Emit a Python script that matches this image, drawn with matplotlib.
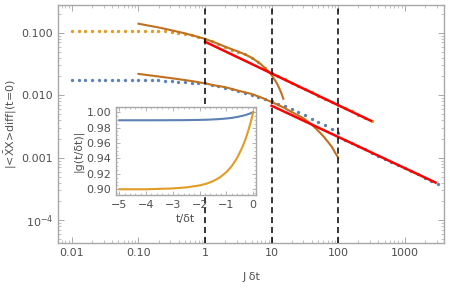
import numpy as np
import matplotlib
matplotlib.use("Agg")
import matplotlib.pyplot as plt
from matplotlib.ticker import FixedLocator, LogLocator, NullFormatter, MultipleLocator

# datos: puntos en rejilla de 0.1 decadas
log_x_azul = np.arange(-2.0, 3.51, 0.1)
y_azul = [0.0175] * 13 + [
    0.0173, 0.0171, 0.0168, 0.0165, 0.0162, 0.0159, 0.0156,
    0.0155, 0.0148, 0.0140, 0.0133, 0.0125, 0.0117, 0.0110, 0.0102, 0.0094, 0.0087,
    0.0080, 0.0073, 0.0067, 0.0060, 0.0053, 0.0048, 0.0042, 0.0038, 0.0033, 0.0029,
    0.0025, 0.00195, 0.00172, 0.00153, 0.00136, 0.00121, 0.00108, 0.00096, 0.00086,
    0.00076, 0.00068, 0.00061, 0.00054, 0.00048, 0.00043, 0.00038]

log_x_naranja = np.arange(-2.0, 2.51, 0.1)
y_naranja = [0.108] * 13 + [
    0.107, 0.105, 0.103, 0.100, 0.097, 0.093, 0.087,
    0.080, 0.073, 0.066, 0.059, 0.054, 0.049, 0.045, 0.040, 0.034, 0.027,
    0.0226, 0.0201, 0.0179, 0.0159, 0.0141, 0.0126, 0.0112, 0.0099, 0.0088, 0.0079,
    0.0070, 0.0062, 0.0055, 0.0049, 0.0044, 0.0039]

# curvas de tiempo corto (marron)
x_corto_sup = [0.1, 0.15, 0.2, 0.3, 0.5, 0.7, 1, 1.5, 2, 3, 4, 5, 6, 7, 8, 9, 10, 11, 12, 13, 14, 15]
y_corto_sup = [0.140, 0.129, 0.122, 0.111, 0.098, 0.089, 0.080, 0.068, 0.060, 0.051, 0.045,
               0.040, 0.035, 0.031, 0.027, 0.024, 0.021, 0.018, 0.0155, 0.013, 0.0108, 0.0088]
x_corto_inf = [0.1, 0.15, 0.2, 0.3, 0.5, 0.7, 1, 1.5, 2, 3, 5, 7, 10, 15, 20, 30, 40, 50, 60, 70, 80, 90, 100]
y_corto_inf = [0.022, 0.0208, 0.0200, 0.0189, 0.0175, 0.0166, 0.0155, 0.0142, 0.0135, 0.0120,
               0.0105, 0.0092, 0.0078, 0.0064, 0.0054, 0.0043, 0.0034, 0.0027, 0.0022,
               0.0018, 0.0015, 0.0012, 0.0010]

# ajustes de ley de potencia (rojo)
x_ajuste_sup = [1, 310]
y_ajuste_sup = [0.072, 0.0039]
x_ajuste_inf = [10, 2900]
y_ajuste_inf = [0.0068, 0.0004]

lineas_verticales = [1, 10, 100]

# inset
t_inset = [-5, -4, -3, -2.5, -2, -1.75, -1.5, -1.25, -1, -0.8, -0.6, -0.4, -0.3, -0.2, -0.1, 0]
g_azul = [0.9895, 0.9895, 0.9896, 0.9897, 0.9900, 0.9902, 0.9906, 0.9911, 0.9918, 0.9926,
          0.9938, 0.9953, 0.9962, 0.9973, 0.9986, 1.0]
g_naranja = [0.9000, 0.9000, 0.9011, 0.9024, 0.9050, 0.9072, 0.9105, 0.9153, 0.9223, 0.9301,
             0.9407, 0.9549, 0.9638, 0.9741, 0.9861, 1.0]

azul = "#5E81B5"
naranja = "#E19C24"
marron = "#C0711F"
gris = "#A8A8A8"
texto = "#505050"

plt.rcParams["font.family"] = ["DejaVu Sans"]
plt.rcParams["font.size"] = 8

fig = plt.figure(figsize=(4.5, 2.88), dpi=100)
ax = fig.add_axes([0.129, 0.156, 0.858, 0.827])

ax.plot(10 ** log_x_azul, y_azul, "o", color=azul, ms=2.4, mec="none", zorder=2)
ax.plot(10 ** log_x_naranja, y_naranja, "o", color=naranja, ms=2.4, mec="none", zorder=2)
ax.plot(x_corto_sup, y_corto_sup, color=marron, lw=1.5, zorder=3)
ax.plot(x_corto_inf, y_corto_inf, color=marron, lw=1.5, zorder=3)
ax.plot(x_ajuste_sup, y_ajuste_sup, color="red", lw=1.8, zorder=4)
ax.plot(x_ajuste_inf, y_ajuste_inf, color="red", lw=1.8, zorder=4)
for xv in lineas_verticales:
    ax.axvline(xv, color="black", lw=1.1, dashes=(4, 2.5), zorder=5)

ax.set_xscale("log")
ax.set_yscale("log")
ax.set_xlim(0.0062, 3900)
ax.set_ylim(4.3e-5, 0.28)

ax.xaxis.set_major_locator(FixedLocator([0.01, 0.1, 1, 10, 100, 1000]))
ax.set_xticklabels(["0.01", "0.10", "1", "10", "100", "1000"])
ax.yaxis.set_major_locator(FixedLocator([1e-4, 1e-3, 1e-2, 1e-1]))
ax.set_yticklabels(["$10^{-4}$", "0.001", "0.010", "0.100"])
ax.xaxis.set_minor_locator(LogLocator(base=10, subs=np.arange(2, 10)))
ax.yaxis.set_minor_locator(LogLocator(base=10, subs=np.arange(2, 10)))
ax.xaxis.set_minor_formatter(NullFormatter())
ax.yaxis.set_minor_formatter(NullFormatter())

ax.tick_params(which="both", direction="in", top=True, right=True, colors=gris, labelcolor=texto)
ax.tick_params(which="major", length=4, width=0.7)
ax.tick_params(which="minor", length=2, width=0.5)
for s in ax.spines.values():
    s.set_color(gris)
    s.set_linewidth(1.0)

ax.set_xlabel("J δt", color=texto, labelpad=10)
ax.set_ylabel("|<$\\bar{\\mathrm{X}}$X>diff|(t=0)", color=texto, labelpad=2)

# inset
axi = fig.add_axes([0.258, 0.323, 0.310, 0.307])
axi.plot(t_inset, g_azul, color=azul, lw=1.5)
axi.plot(t_inset, g_naranja, color=naranja, lw=1.5)
axi.set_xlim(-5.12, 0.09)
axi.set_ylim(0.8926, 1.0073)
axi.xaxis.set_major_locator(MultipleLocator(1))
axi.xaxis.set_minor_locator(MultipleLocator(0.2))
axi.yaxis.set_major_locator(MultipleLocator(0.02))
axi.yaxis.set_minor_locator(MultipleLocator(0.005))
axi.yaxis.set_major_formatter(plt.FormatStrFormatter("%.2f"))
axi.tick_params(which="both", direction="in", top=True, right=True, colors=gris, labelcolor=texto)
axi.tick_params(which="major", length=3, width=0.6)
axi.tick_params(which="minor", length=1.5, width=0.5)
for s in axi.spines.values():
    s.set_color(gris)
    s.set_linewidth(1.0)
axi.set_xlabel("t/δt", color=texto, labelpad=3)
axi.set_ylabel("|g(t/δt)|", color=texto, labelpad=2)

fig.savefig("out.png", dpi=100)
